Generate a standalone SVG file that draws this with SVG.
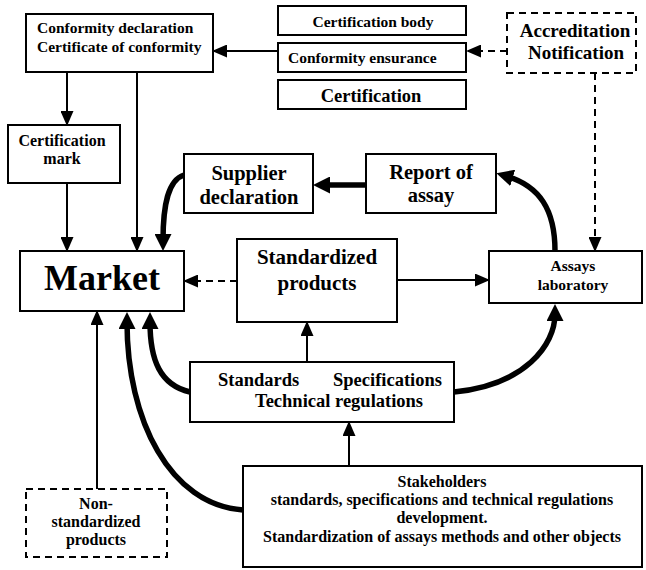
<svg xmlns="http://www.w3.org/2000/svg" width="646" height="570" viewBox="0 0 646 570">
<style>
.box{fill:#fff;stroke:#000;stroke-width:2}
.dbox{fill:#fff;stroke:#000;stroke-width:2;stroke-dasharray:7,5}
.t{font-family:"Liberation Serif","Times New Roman",serif;font-weight:bold;fill:#000}
.m{text-anchor:middle}
.thin{fill:none;stroke:#000;stroke-width:2}
.dash{fill:none;stroke:#000;stroke-width:2;stroke-dasharray:7,5}
.thick{fill:none;stroke:#000;stroke-width:5.5}
</style>
<defs>
<marker id="ah" markerUnits="userSpaceOnUse" markerWidth="15" markerHeight="13" refX="13" refY="6.5" orient="auto">
<path d="M0,0 L15,6.5 L0,13 z" fill="#000"/>
</marker>
<marker id="ahk" markerUnits="userSpaceOnUse" markerWidth="17" markerHeight="17" refX="7" refY="8.5" orient="auto">
<path d="M0,0 L17,8.5 L0,17 z" fill="#000"/>
</marker>
</defs>
<rect width="646" height="570" fill="#fff"/>

<g id="connectors">
<path class="thin" d="M278,51 L214,51" marker-end="url(#ah)"/>
<path class="dash" d="M507,51 L468,51" marker-end="url(#ah)"/>
<path class="dash" d="M595,73 L595,250" marker-end="url(#ah)"/>
<path class="thin" d="M67,72 L67,124" marker-end="url(#ah)"/>
<path class="thin" d="M137,72 L137,250" marker-end="url(#ah)"/>
<path class="thin" d="M67,183 L67,250" marker-end="url(#ah)"/>
<path class="thick" d="M184,175 C168,180 163,205 163,241" marker-end="url(#ahk)"/>
<path class="thick" d="M366,185 L323,185" marker-end="url(#ahk)"/>
<path class="thick" d="M555,251 C555,210 540,186 506,176" marker-end="url(#ahk)"/>
<path class="dash" d="M237,281 L185,281" marker-end="url(#ah)"/>
<path class="thin" d="M397,280 L488,280" marker-end="url(#ah)"/>
<path class="thin" d="M307,362 L307,323" marker-end="url(#ah)"/>
<path class="thick" d="M454,392 C525,385 555,345 555,314" marker-end="url(#ahk)"/>
<path class="thick" d="M190,392 C160,385 150,360 150,322" marker-end="url(#ahk)"/>
<path class="thick" d="M243,510 C170,505 127,420 127,322" marker-end="url(#ahk)"/>
<path class="thin" d="M97,489 L97,312" marker-end="url(#ah)"/>
<path class="thin" d="M349,466 L349,423" marker-end="url(#ah)"/>
</g>

<g id="conformity-declaration">
<rect class="box" x="26" y="14" width="187" height="58"/>
<text class="t" x="37" y="33" font-size="15.5">Conformity declaration</text>
<text class="t" x="37" y="52" font-size="15.5">Certificate of conformity</text>
</g>
<g id="certification-body">
<rect class="box" x="278" y="6" width="188" height="29"/>
<text class="t m" x="373" y="27" font-size="15.5">Certification body</text>
</g>
<g id="conformity-ensurance">
<rect class="box" x="278" y="43" width="188" height="29"/>
<text class="t" x="288" y="63" font-size="15.5">Conformity ensurance</text>
</g>
<g id="certification">
<rect class="box" x="278" y="80" width="188" height="29"/>
<text class="t m" x="371" y="102" font-size="18.5">Certification</text>
</g>
<g id="accreditation">
<rect class="dbox" x="507" y="13" width="129" height="60"/>
<text class="t m" x="575" y="37" font-size="19">Accreditation</text>
<text class="t m" x="576" y="59" font-size="19">Notification</text>
</g>
<g id="certification-mark">
<rect class="box" x="8" y="125" width="112" height="58"/>
<text class="t m" x="62" y="146" font-size="16">Certification</text>
<text class="t m" x="62" y="164" font-size="16">mark</text>
</g>
<g id="market">
<rect class="box" x="20" y="251" width="164" height="60"/>
<text class="t m" x="102" y="290" font-size="36">Market</text>
</g>
<g id="supplier-declaration">
<rect class="box" x="184" y="154" width="129" height="59"/>
<text class="t m" x="249" y="180" font-size="20.5">Supplier</text>
<text class="t m" x="249" y="204" font-size="20.5">declaration</text>
</g>
<g id="report-of-assay">
<rect class="box" x="366" y="154" width="130" height="59"/>
<text class="t m" x="431" y="179" font-size="20.5">Report of</text>
<text class="t m" x="431" y="202" font-size="20.5">assay</text>
</g>
<g id="standardized-products">
<rect class="box" x="237" y="239" width="160" height="83"/>
<text class="t m" x="317" y="264" font-size="21">Standardized</text>
<text class="t m" x="317" y="290" font-size="21">products</text>
</g>
<g id="assays-laboratory">
<rect class="box" x="489" y="251" width="153" height="52"/>
<text class="t m" x="573" y="271" font-size="15.5">Assays</text>
<text class="t m" x="573" y="290" font-size="15.5">laboratory</text>
</g>
<g id="standards">
<rect class="box" x="190" y="362" width="264" height="60"/>
<text class="t" x="218" y="386" font-size="18.5">Standards</text>
<text class="t" x="442" y="386" font-size="18.5" text-anchor="end">Specifications</text>
<text class="t" x="255" y="407" font-size="18.5">Technical regulations</text>
</g>
<g id="non-standardized-products">
<rect class="dbox" x="26" y="489" width="141" height="68"/>
<text class="t m" x="96" y="509" font-size="16">Non-</text>
<text class="t m" x="96" y="527" font-size="16">standardized</text>
<text class="t m" x="96" y="545" font-size="16">products</text>
</g>
<g id="stakeholders">
<rect class="box" x="243" y="466" width="399" height="101"/>
<text class="t m" x="442" y="487" font-size="16">Stakeholders</text>
<text class="t m" x="442" y="505" font-size="16">standards, specifications and technical regulations</text>
<text class="t m" x="442" y="523" font-size="16">development.</text>
<text class="t m" x="442" y="542" font-size="16">Standardization of assays methods and other objects</text>
</g>
</svg>
